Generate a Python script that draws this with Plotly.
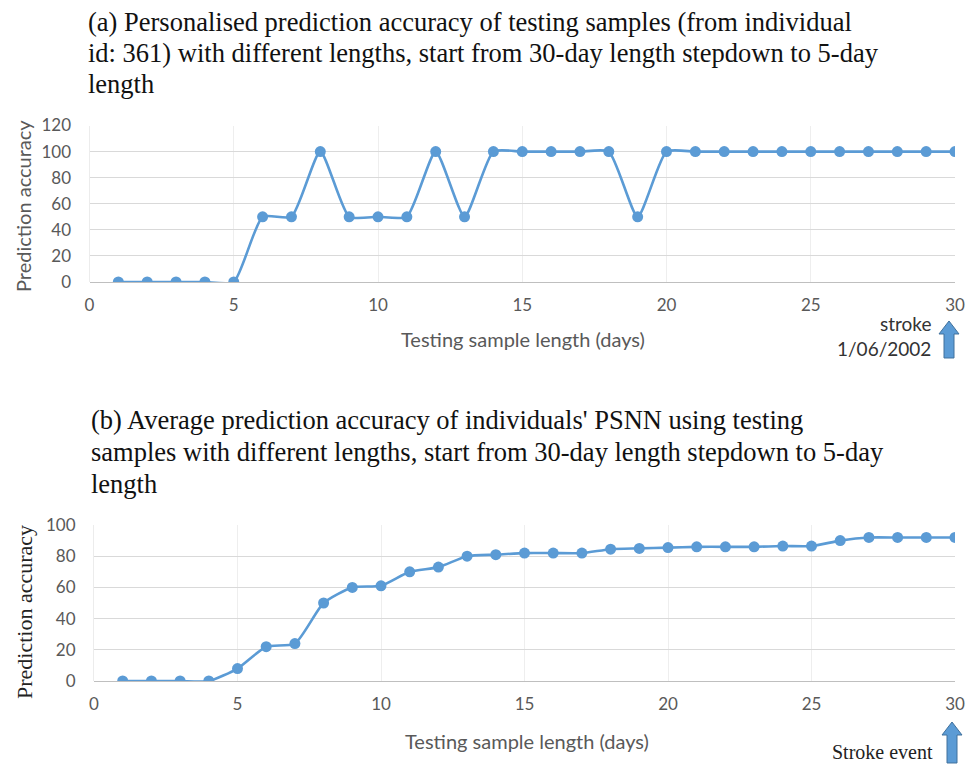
import plotly.graph_objects as go

# Testing sample lengths (days)
days = list(range(1, 31))

# (a) Individual id 361: prediction accuracy per sample length
acc_individual = [0, 0, 0, 0, 0, 50, 50, 100, 50, 50,
                  50, 100, 50, 100, 100, 100, 100, 100, 50, 100,
                  100, 100, 100, 100, 100, 100, 100, 100, 100, 100]

# (b) Average accuracy of individuals' PSNN per sample length
acc_average = [0, 0, 0, 0, 8, 22, 24, 50, 60, 61,
               70, 73, 80, 81, 82, 82, 82, 84.5, 85, 85.5,
               86, 86, 86, 86.5, 86.5, 90, 92, 92, 92, 92]

x_ticks = [0, 5, 10, 15, 20, 25, 30]

title_a = ["(a) Personalised prediction accuracy of testing samples (from individual",
           "id: 361) with different lengths, start from 30-day length stepdown to 5-day",
           "length"]
title_b = ["(b) Average prediction accuracy of individuals' PSNN using testing",
           "samples with different lengths, start from 30-day length stepdown to 5-day",
           "length"]

W, H = 967, 767
BLUE = "#5B9BD5"
GRID = "#d9d9d9"
TICK_COLOR = "#595959"
SANS = "Lato, 'Open Sans', sans-serif"
SERIF = "'Liberation Serif', 'Times New Roman', serif"


def px_x(p):
    return p / W


def px_y(p):
    return 1 - p / H


fig = go.Figure()

fig.add_trace(go.Scatter(
    x=days, y=acc_individual, mode="lines+markers",
    line=dict(color=BLUE, width=2.6, shape="spline", smoothing=0.55),
    marker=dict(color=BLUE, size=11),
    xaxis="x", yaxis="y", showlegend=False))

fig.add_trace(go.Scatter(
    x=days, y=acc_average, mode="lines+markers",
    line=dict(color=BLUE, width=2.6, shape="spline", smoothing=0.6),
    marker=dict(color=BLUE, size=11),
    xaxis="x2", yaxis="y2", showlegend=False))

common_x = dict(range=[0, 30], tickvals=x_ticks, showgrid=True, gridcolor="#eeeeee",
                gridwidth=1, zeroline=False, showline=False, ticks="",
                tickfont=dict(family=SANS, size=17, color=TICK_COLOR),
                ticklabelstandoff=11, ticklabeloverflow="allow",
                automargin=False, fixedrange=True)
common_y = dict(dtick=20, showgrid=True, gridcolor=GRID, gridwidth=1,
                zeroline=True, zerolinecolor="#bfbfbf", zerolinewidth=1.2,
                showline=True, linecolor="#ececec", linewidth=1, ticks="",
                tickfont=dict(family=SANS, size=17, color=TICK_COLOR),
                ticklabelstandoff=14, automargin=False, fixedrange=True)

fig.update_layout(
    width=W, height=H,
    margin=dict(l=0, r=0, t=0, b=0, autoexpand=False),
    paper_bgcolor="white", plot_bgcolor="white",
    xaxis=dict(domain=[px_x(89.5), px_x(955)], anchor="y", **common_x),
    yaxis=dict(domain=[px_y(282), px_y(125.5)], anchor="x", range=[0, 120], **common_y),
    xaxis2=dict(domain=[px_x(94), px_x(955)], anchor="y2", **common_x),
    yaxis2=dict(domain=[px_y(681), px_y(525)], anchor="x2", range=[0, 100], **common_y),
)

annotations = []

# Panel titles, one line each
for i, line in enumerate(title_a):
    annotations.append(dict(text=line, x=px_x(86), y=px_y(22 + 31 * i), xref="paper", yref="paper",
                            xanchor="left", yanchor="middle", showarrow=False,
                            font=dict(family=SERIF, size=26.5, color="#111111")))
for i, line in enumerate(title_b):
    annotations.append(dict(text=line, x=px_x(89), y=px_y(420 + 32 * i), xref="paper", yref="paper",
                            xanchor="left", yanchor="middle", showarrow=False,
                            font=dict(family=SERIF, size=26.5, color="#111111")))

# Axis titles
annotations += [
    dict(text="Testing sample length (days)", x=px_x(523), y=px_y(339), xref="paper", yref="paper",
         xanchor="center", yanchor="middle", showarrow=False,
         font=dict(family=SANS, size=20, color=TICK_COLOR)),
    dict(text="Prediction accuracy", x=px_x(23), y=px_y(206), xref="paper", yref="paper",
         xanchor="center", yanchor="middle", textangle=-90, showarrow=False,
         font=dict(family=SANS, size=20, color=TICK_COLOR)),
    dict(text="Testing sample length (days)", x=px_x(527), y=px_y(741), xref="paper", yref="paper",
         xanchor="center", yanchor="middle", showarrow=False,
         font=dict(family=SANS, size=20, color=TICK_COLOR)),
    dict(text="Prediction accuracy", x=px_x(24), y=px_y(612), xref="paper", yref="paper",
         xanchor="center", yanchor="middle", textangle=-90, showarrow=False,
         font=dict(family=SERIF, size=22, color="#222222")),
    # Stroke markers
    dict(text="stroke", x=px_x(933), y=px_y(323), xref="paper", yref="paper",
         xanchor="right", yanchor="middle", showarrow=False,
         font=dict(family=SANS, size=19, color="#333333")),
    dict(text="1/06/2002", x=px_x(933), y=px_y(349), xref="paper", yref="paper",
         xanchor="right", yanchor="middle", showarrow=False,
         font=dict(family=SANS, size=19, color="#333333")),
    dict(text="Stroke event", x=px_x(935), y=px_y(752), xref="paper", yref="paper",
         xanchor="right", yanchor="middle", showarrow=False,
         font=dict(family=SERIF, size=20, color="#222222")),
]
fig.update_layout(annotations=annotations)


def block_arrow(cx, top, bottom, head_w=20, shaft_w=10, head_h=13):
    pts = [
        (cx, top),
        (cx + head_w / 2, top + head_h),
        (cx + shaft_w / 2, top + head_h),
        (cx + shaft_w / 2, bottom),
        (cx - shaft_w / 2, bottom),
        (cx - shaft_w / 2, top + head_h),
        (cx - head_w / 2, top + head_h),
    ]
    path = "M " + " L ".join(f"{px_x(x):.5f},{px_y(y):.5f}" for x, y in pts) + " Z"
    return dict(type="path", path=path, xref="paper", yref="paper",
                fillcolor=BLUE, line=dict(color="#41719C", width=1))


fig.update_layout(shapes=[block_arrow(949, 321, 358), block_arrow(952, 722, 763)])

fig.write_html("out.html")
